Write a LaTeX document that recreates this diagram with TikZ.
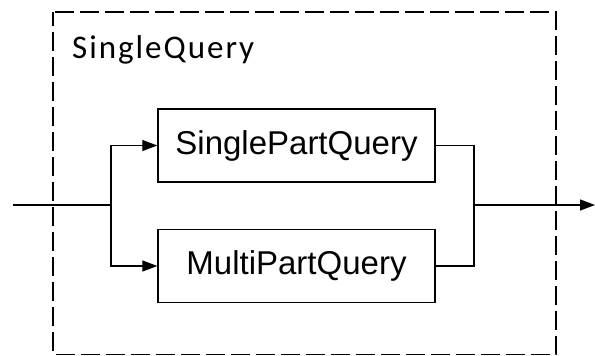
\documentclass[tikz,border=0pt]{standalone}
\usepackage{fontspec}
\setmainfont{Liberation Sans}
\newfontfamily\titlefont[LetterSpace=6]{Carlito}
\usetikzlibrary{arrows.meta}
\begin{document}
\begin{tikzpicture}[x=1pt,y=-1pt,
  flow/.style={line width=1.3pt},
  arr/.style={flow,-{Triangle[length=15pt,width=11pt]}},
  rule/.style={draw,line width=1.4pt,minimum width=277pt,minimum height=73pt,
    inner sep=0pt,font=\fontsize{33}{36}\selectfont},
  frame/.style={draw,line width=1.5pt,dash pattern=on 19pt off 6pt,dash phase=5pt}]
  \useasboundingbox (0,0) rectangle (595,356);
  % enclosing group
  \draw[frame] (53,12) rectangle (556,354.5);
  \node[anchor=base west,inner sep=0pt,font=\titlefont\fontsize{33}{36}\selectfont] (title) at (72,58) {SingleQuery};
  % alternatives
  \node[rule] (spq) at (296.5,145.5) {SinglePartQuery};
  \node[rule] (mpq) at (296.5,266) {MultiPartQuery};
  % junctions
  \coordinate (in) at (13,205);
  \coordinate (split) at (111,205);
  \coordinate (join) at (474,205);
  \coordinate (out) at (595,205);
  \draw[flow] (in) -- (split);
  \draw[arr] (split) |- (spq.west);
  \draw[arr] (split) |- (mpq.west);
  \draw[flow] (spq.east) -| (join);
  \draw[flow] (mpq.east) -| (join);
  \draw[arr] (join) -- (out);
\end{tikzpicture}
\end{document}
